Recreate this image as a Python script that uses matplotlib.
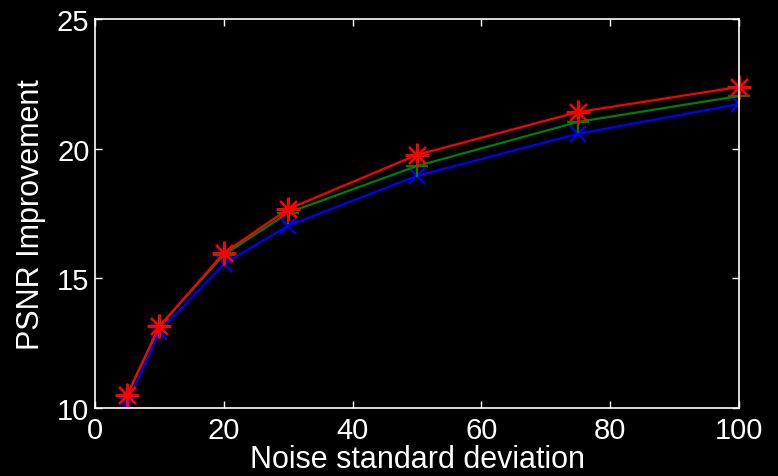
import matplotlib
matplotlib.use("Agg")
import matplotlib.pyplot as plt

plt.rcParams['font.family'] = ['Liberation Sans', 'DejaVu Sans']

noise_sigma = [5, 10, 20, 30, 50, 75, 100]
psnr_blue = [10.15, 12.93, 15.55, 17.03, 18.95, 20.57, 21.72]
psnr_green = [10.5, 13.15, 15.9, 17.53, 19.33, 21.03, 22.03]
psnr_red = [10.5, 13.15, 15.97, 17.67, 19.76, 21.41, 22.38]

x_ticks = [0, 20, 40, 60, 80, 100]
y_ticks = [10, 15, 20, 25]

fig = plt.figure(figsize=(7.78, 4.77), dpi=100, facecolor='black')
ax = fig.add_axes([0.1221, 0.1426, 0.8278, 0.8155])
ax.set_facecolor('black')

ax.plot(noise_sigma, psnr_blue, color='#0000ff', lw=1.6, marker='x',
        ms=12, mew=1.6, clip_on=True)
ax.plot(noise_sigma, psnr_green, color='#008000', lw=1.6, marker='+',
        ms=16, mew=1.6, clip_on=False)
ax.plot(noise_sigma, psnr_red, color='#ff0000', lw=1.6, marker=(8, 2, 0),
        ms=17, mew=1.6, clip_on=False)

ax.set_xlim(0, 100)
ax.set_ylim(10, 25)
ax.set_xticks(x_ticks)
ax.set_yticks(y_ticks)

for s in ax.spines.values():
    s.set_color('white')
    s.set_linewidth(1.2)

ax.tick_params(axis='both', direction='in', colors='white', labelcolor='white',
               labelsize=21, length=5, width=1.0, top=True, right=True)
ax.tick_params(axis='x', pad=6)
ax.tick_params(axis='y', pad=4)

ax.set_xlabel('Noise standard deviation', color='white', fontsize=22, labelpad=0)
ax.set_ylabel('PSNR Improvement', color='white', fontsize=22, labelpad=8)

fig.savefig('out.png', dpi=100, facecolor='black')
